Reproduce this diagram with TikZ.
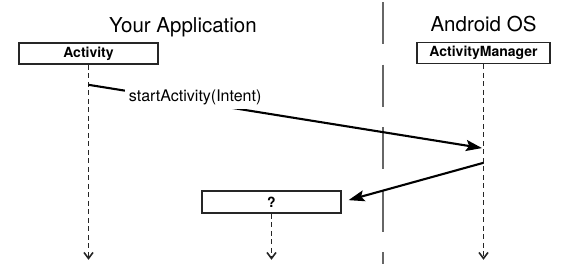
\documentclass[tikz,border=0pt]{standalone}
\usepackage{fontspec}
\setmainfont{TeX Gyre Heros}
\usetikzlibrary{positioning}
\usetikzlibrary{arrows.meta}

\begin{document}
\begin{tikzpicture}[x=1pt, y=-1pt,
                classbox/.style={rectangle, draw=black!85, line width=1.6pt, font=\bfseries\fontsize{14}{16}\selectfont, minimum height=21pt, inner sep=0pt},
                lifeline/.style={dash pattern=on 5pt off 3.5pt, line width=1.6pt, draw=black!85, -{Straight Barb[length=6pt,width=9pt]}},
                message/.style={line width=2.1pt, -{Stealth[length=16pt,width=11pt,inset=3pt]}},
                boundary/.style={line width=1.7pt, draw=black!60, dash pattern=on 42pt off 20.5pt},
                title/.style={font=\fontsize{20.5}{24}\selectfont, inner sep=0pt},
            ]
            \useasboundingbox (0,0) rectangle (566,277);

            % Nodes
            \node[classbox, minimum width=139pt]       (activity)   at (88.5,53.5)       {Activity};
            \node[classbox, minimum width=133pt]       (manager)    at (483.5,53)        {ActivityManager};
            \node[classbox, minimum width=139pt, minimum height=22pt] (unknown) at (271.5,202) {?};

            \node[title, anchor=base]       (app_title)  at (183,32)          {Your Application};
            \node[title]                    (os_title)   [above=10pt of manager]   {Android OS};

            % Points on the lifelines
            \path (activity.south) ++(0,20)    coordinate (activity_call);
            \path (activity.south) ++(0,195)   coordinate (activity_end);
            \path (manager.south) ++(0,84)     coordinate (manager_call);
            \path (manager.south) ++(0,98.5)   coordinate (manager_reply);
            \path (manager.south) ++(0,195.5)  coordinate (manager_end);
            \path (unknown.south) ++(0,46)     coordinate (unknown_end);
            \coordinate (boundary_top)    at (383,2);
            \coordinate (boundary_bottom) at (383,264);

            %Lines
            \draw[boundary] (boundary_top) -- (boundary_bottom);

            \draw[lifeline] (activity.south) -- (activity_end);
            \draw[lifeline] (manager.south) -- (manager_end);
            \draw[lifeline] (unknown.south) -- (unknown_end);

            \draw[message, shorten >=1.5pt] (activity_call) -- node[pos=0.27, yshift=5pt, fill=white, inner sep=4pt, font=\fontsize{16}{19}\selectfont] {startActivity(Intent)} (manager_call);
            \draw[message, shorten >=7pt] (manager_reply) -- (unknown.east);
        \end{tikzpicture}
\end{document}
